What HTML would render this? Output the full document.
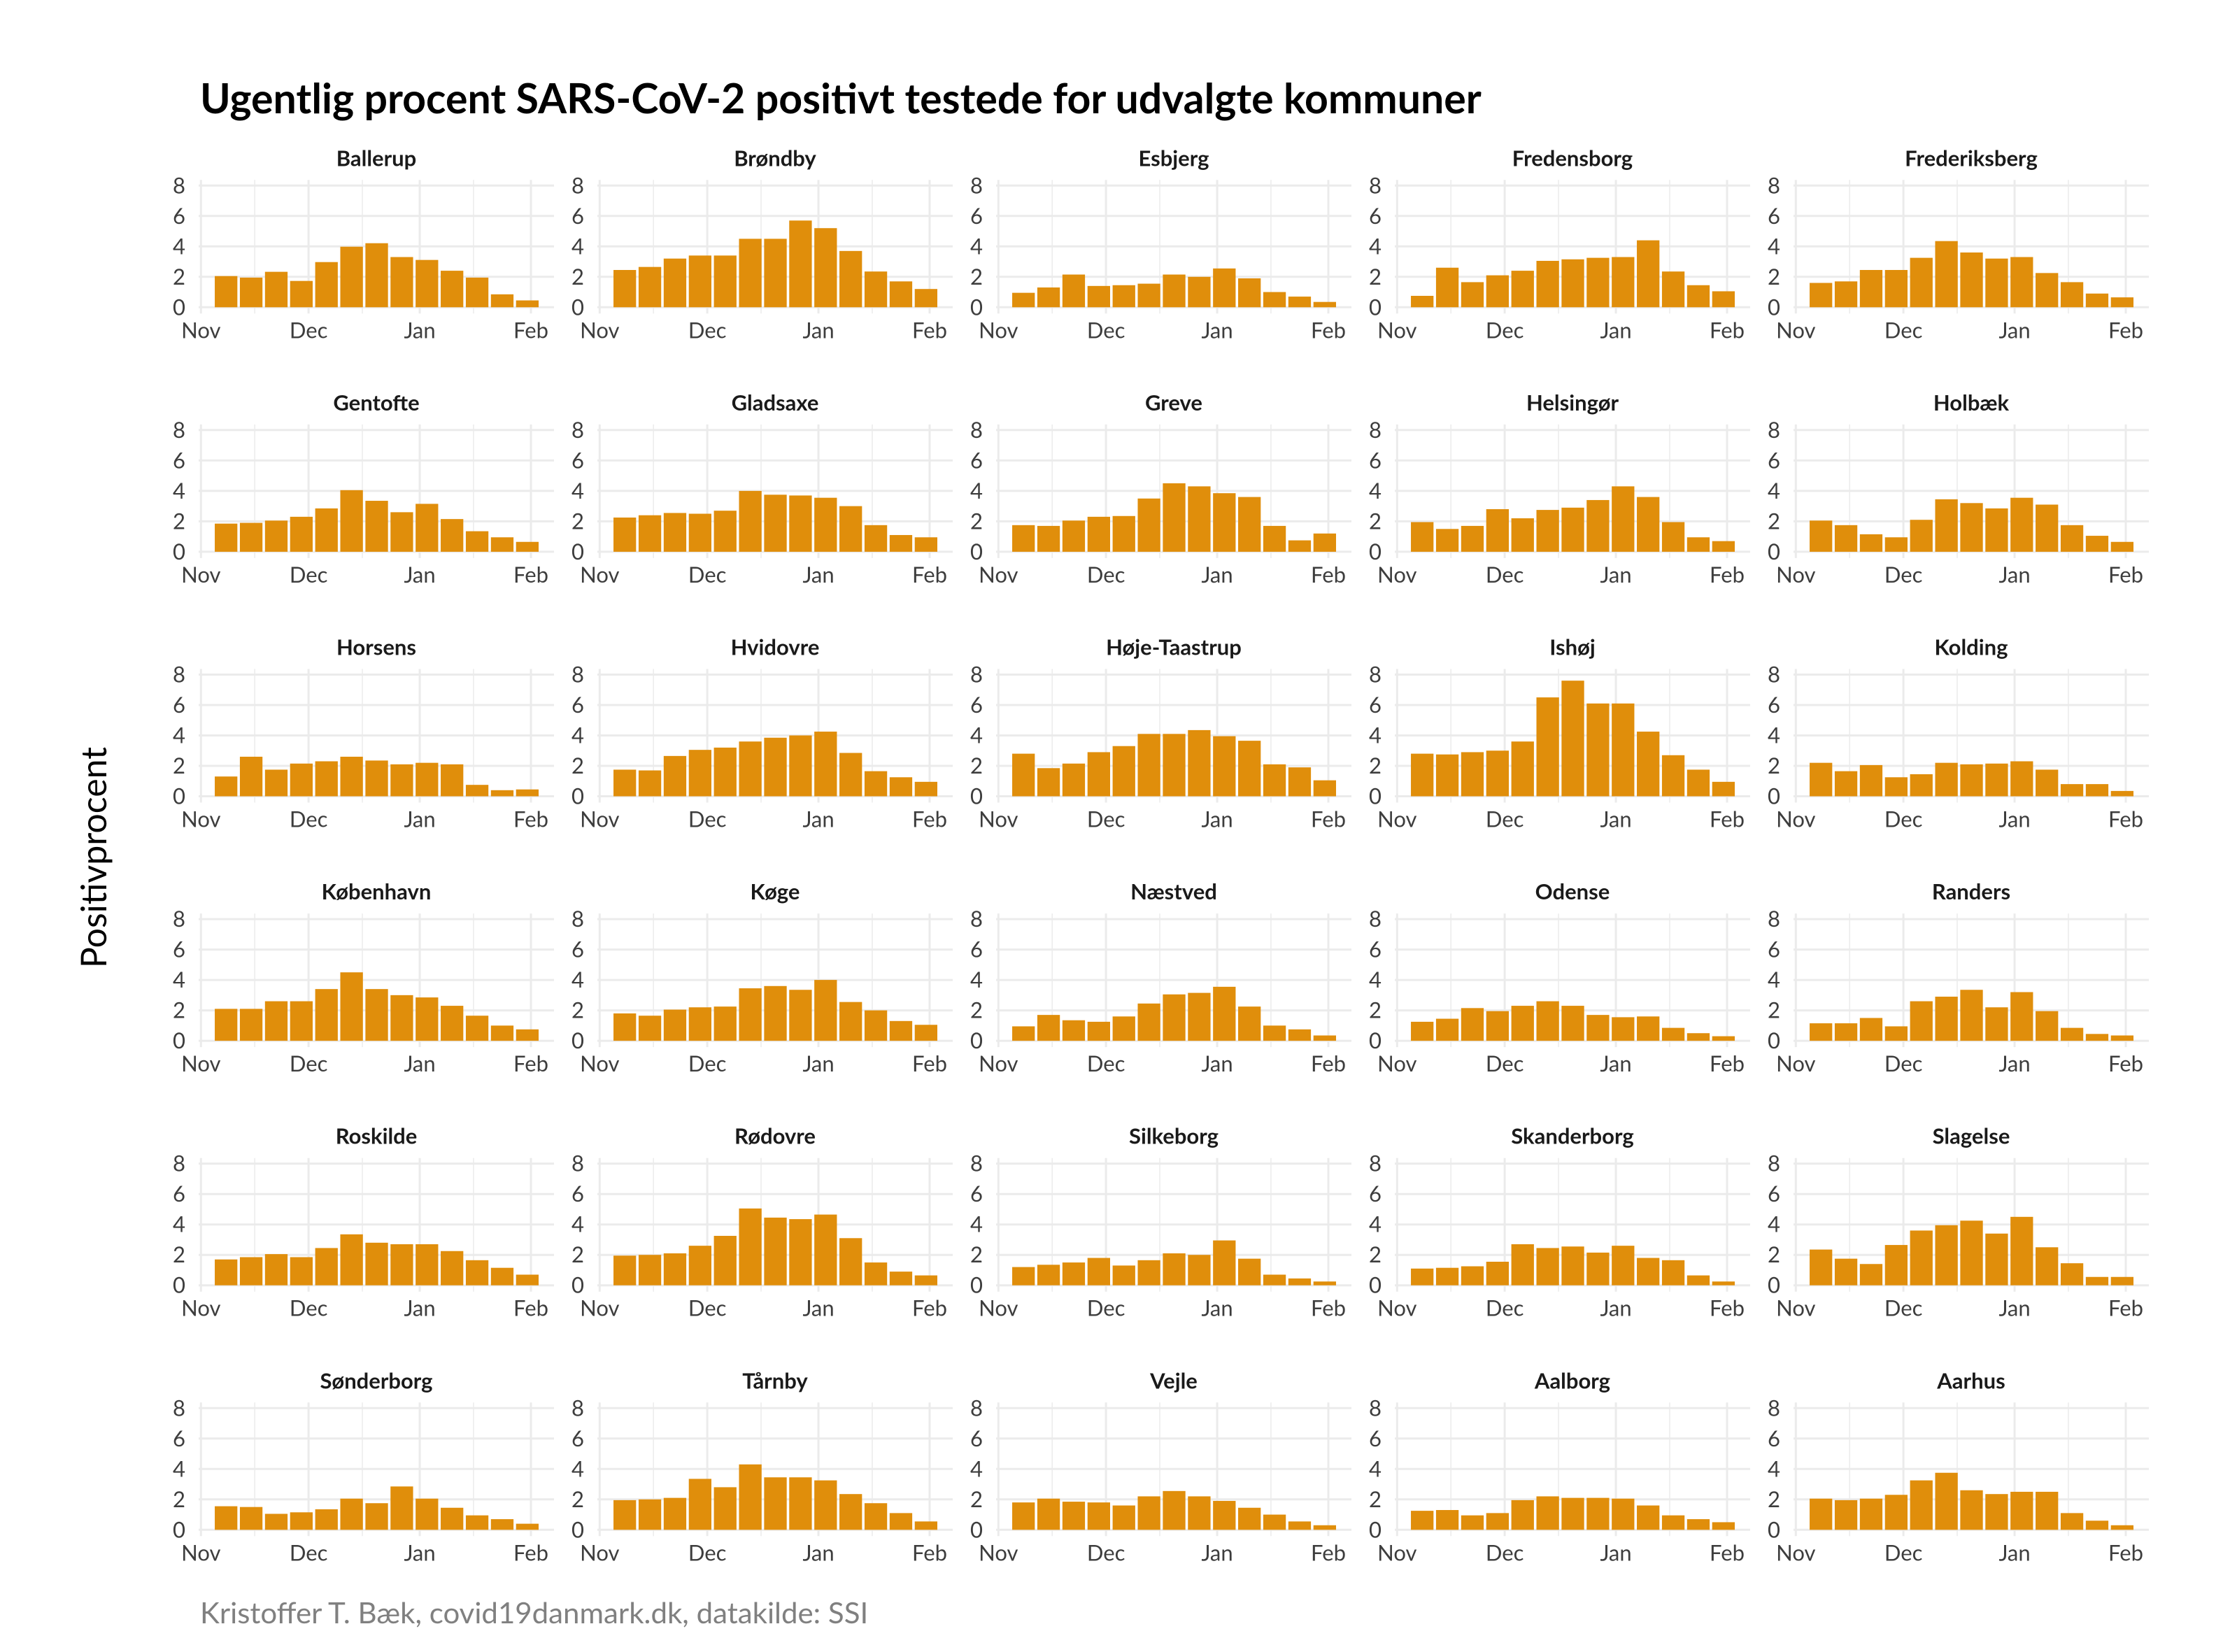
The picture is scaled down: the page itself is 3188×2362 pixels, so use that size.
<!DOCTYPE html>
<html><head><meta charset="utf-8">
<style>
html,body{margin:0;padding:0;background:#fff;}
svg{display:block;}
text{font-family:"Lato","Liberation Sans",sans-serif;}
</style></head>
<body>
<svg id="chart" width="3188" height="2362" viewBox="0 0 3188 2362" xmlns="http://www.w3.org/2000/svg">
<rect width="3188" height="2362" fill="#fff"/>
<text x="286" y="162" font-size="59" font-weight="bold" fill="#000">Ugentlig procent SARS-CoV-2 positivt testede for udvalgte kommuner</text>
<text transform="translate(152,1226) rotate(-90)" text-anchor="middle" font-size="50" fill="#000">Positivprocent</text>
<text x="286" y="2321" font-size="42" fill="#808080">Kristoffer T. Bæk, covid19danmark.dk, datakilde: SSI</text>
<g id="panels"></g>
</svg>
<script>
const municipalities = ["Ballerup","Brøndby","Esbjerg","Fredensborg","Frederiksberg","Gentofte","Gladsaxe","Greve","Helsingør","Holbæk","Horsens","Hvidovre","Høje-Taastrup","Ishøj","Kolding","København","Køge","Næstved","Odense","Randers","Roskilde","Rødovre","Silkeborg","Skanderborg","Slagelse","Sønderborg","Tårnby","Vejle","Aalborg","Aarhus"];
const weekDays = [7,14,21,28,35,42,49,56,63,70,77,84,91];
const yTicks = [0,2,4,6,8];
const xTickDays = [0,30,61,92];
const xTickLabels = ["Nov","Dec","Jan","Feb"];
const xMinorDays = [15,45,76];
const vBallerup = [2.05,1.95,2.33,1.73,2.97,3.98,4.21,3.3,3.11,2.4,1.95,0.85,0.45];
const vBrondby = [2.45,2.65,3.2,3.4,3.4,4.5,4.5,5.7,5.2,3.7,2.35,1.7,1.2];
const vEsbjerg = [0.95,1.3,2.15,1.4,1.45,1.55,2.15,2.0,2.55,1.9,1.0,0.7,0.35];
const vFredensborg = [0.75,2.6,1.65,2.1,2.4,3.05,3.15,3.25,3.3,4.4,2.35,1.45,1.05];
const vFrederiksberg = [1.6,1.7,2.45,2.45,3.25,4.35,3.6,3.2,3.3,2.25,1.65,0.9,0.65];
const vGentofte = [1.85,1.9,2.05,2.3,2.85,4.05,3.35,2.6,3.15,2.15,1.35,0.95,0.65];
const vGladsaxe = [2.25,2.4,2.55,2.5,2.7,4.0,3.75,3.7,3.55,3.0,1.75,1.1,0.95];
const vGreve = [1.75,1.7,2.05,2.3,2.35,3.5,4.5,4.3,3.85,3.6,1.7,0.75,1.2];
const vHelsingor = [1.95,1.5,1.7,2.8,2.2,2.75,2.9,3.4,4.3,3.6,1.95,0.95,0.7];
const vHolbaek = [2.05,1.75,1.15,0.95,2.1,3.45,3.2,2.85,3.55,3.1,1.75,1.05,0.65];
const vHorsens = [1.3,2.6,1.75,2.15,2.3,2.6,2.35,2.1,2.2,2.1,0.75,0.4,0.45];
const vHvidovre = [1.75,1.7,2.65,3.05,3.2,3.6,3.85,4.0,4.25,2.85,1.65,1.25,0.95];
const vHojeTaastrup = [2.8,1.85,2.15,2.9,3.3,4.1,4.1,4.35,3.95,3.65,2.1,1.9,1.05];
const vIshoj = [2.8,2.75,2.9,3.0,3.6,6.5,7.6,6.1,6.1,4.25,2.7,1.75,0.95];
const vKolding = [2.2,1.65,2.05,1.25,1.45,2.2,2.1,2.15,2.3,1.75,0.8,0.8,0.35];
const vKobenhavn = [2.1,2.1,2.6,2.6,3.4,4.5,3.4,3.0,2.85,2.3,1.65,1.0,0.75];
const vKoge = [1.8,1.65,2.05,2.2,2.25,3.45,3.6,3.35,4.0,2.55,2.0,1.3,1.05];
const vNaestved = [0.95,1.7,1.35,1.25,1.6,2.45,3.05,3.15,3.55,2.25,1.0,0.75,0.35];
const vOdense = [1.25,1.45,2.15,1.95,2.3,2.6,2.3,1.7,1.55,1.6,0.85,0.5,0.3];
const vRanders = [1.15,1.15,1.5,0.95,2.6,2.9,3.35,2.2,3.2,1.95,0.85,0.45,0.35];
const vRoskilde = [1.7,1.85,2.05,1.85,2.45,3.35,2.8,2.7,2.7,2.25,1.65,1.15,0.7];
const vRodovre = [1.95,2.0,2.1,2.6,3.25,5.05,4.45,4.35,4.65,3.1,1.5,0.9,0.65];
const vSilkeborg = [1.2,1.35,1.5,1.8,1.3,1.65,2.1,2.0,2.95,1.75,0.7,0.45,0.25];
const vSkanderborg = [1.1,1.15,1.25,1.55,2.7,2.45,2.55,2.15,2.6,1.8,1.65,0.65,0.25];
const vSlagelse = [2.35,1.75,1.4,2.65,3.6,3.95,4.25,3.4,4.5,2.5,1.45,0.55,0.55];
const vSonderborg = [1.55,1.5,1.05,1.15,1.35,2.05,1.75,2.85,2.05,1.45,0.95,0.7,0.4];
const vTarnby = [1.95,2.0,2.1,3.35,2.8,4.3,3.45,3.45,3.25,2.35,1.75,1.1,0.55];
const vVejle = [1.8,2.05,1.85,1.8,1.6,2.2,2.55,2.2,1.9,1.45,1.0,0.55,0.3];
const vAalborg = [1.25,1.3,0.95,1.1,1.95,2.2,2.1,2.1,2.05,1.6,0.95,0.7,0.5];
const vAarhus = [2.05,1.95,2.05,2.3,3.25,3.75,2.6,2.35,2.5,2.5,1.1,0.6,0.3];
const seriesList = [vBallerup,vBrondby,vEsbjerg,vFredensborg,vFrederiksberg,vGentofte,vGladsaxe,vGreve,vHelsingor,vHolbaek,vHorsens,vHvidovre,vHojeTaastrup,vIshoj,vKolding,vKobenhavn,vKoge,vNaestved,vOdense,vRanders,vRoskilde,vRodovre,vSilkeborg,vSkanderborg,vSlagelse,vSonderborg,vTarnby,vVejle,vAalborg,vAarhus];

const NS = "http://www.w3.org/2000/svg";
const root = document.getElementById("panels");
const PXDAY = 5.127, PXUNIT = 21.75, BARW = 32.3;
function mk(tag, attrs, parent){const e=document.createElementNS(NS,tag);for(const k in attrs)e.setAttribute(k,attrs[k]);parent.appendChild(e);return e;}

municipalities.forEach((name, i) => {
  const c = i % 5, r = Math.floor(i / 5);
  const x0 = 287.3 + 570 * c;
  const y0 = 439.3 + 349.6 * r;
  const xs = d => x0 + d * PXDAY;
  const ys = v => y0 - v * PXUNIT;
  const left = 284 + 570 * c, right = 792 + 570 * c;
  const g = mk("g", {}, root);
  
  
  xMinorDays.forEach(d => {
    const l = mk("line", {x1:xs(d),x2:xs(d),y1:y0-182,y2:y0+9,stroke:"#ebebeb","stroke-width":1.5}, g);
    
    
  });
  xTickDays.forEach((d, k) => {
    const l = mk("line", {x1:xs(d),x2:xs(d),y1:y0-182,y2:y0+9,stroke:"#ebebeb","stroke-width":3}, g);
    
    
    const t = mk("text", {x:xs(d),y:y0+44,"text-anchor":"middle","font-size":31,fill:"#3d3d3d"}, g);
    t.textContent = xTickLabels[k];
    
    
  });
  yTicks.forEach(v => {
    const l = mk("line", {x1:left,x2:right,y1:ys(v),y2:ys(v),stroke:"#ebebeb","stroke-width":3}, g);
    
    
    const t = mk("text", {x:left-19,y:ys(v)+11,"text-anchor":"end","font-size":31,fill:"#3d3d3d"}, g);
    t.textContent = v;
    
    
  });
  seriesList[i].forEach((v, k) => {
    const b = mk("rect", {x:xs(weekDays[k])-BARW/2,y:ys(v),width:BARW,height:v*PXUNIT,fill:"#E08E0B"}, g);
    
    
  });
  const t = mk("text", {x:(left+right)/2,y:y0-202,"text-anchor":"middle","font-size":31,"font-weight":"bold",fill:"#1a1a1a"}, g);
  t.textContent = name;
  
  
});
</script>
</body></html>
